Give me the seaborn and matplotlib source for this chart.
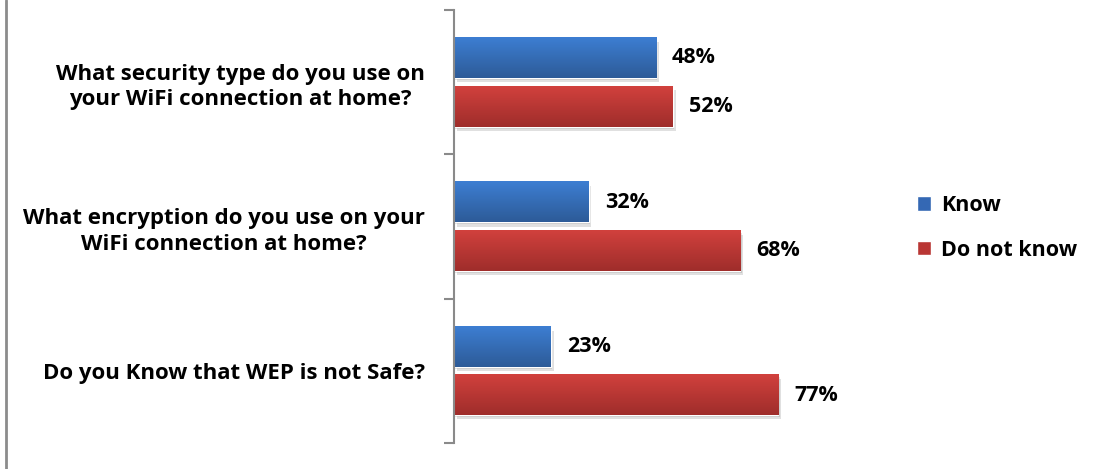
import numpy as np
import pandas as pd
import matplotlib
matplotlib.use("Agg")
import matplotlib.pyplot as plt
import seaborn as sns
from matplotlib.patches import Patch
from matplotlib.lines import Line2D
import matplotlib.patheffects as pe
from matplotlib.colors import LinearSegmentedColormap

# Survey answers (percent of respondents)
questions = [
    "What security type do you use on\nyour WiFi connection at home?",
    "What encryption do you use on your\nWiFi connection at home?",
    "Do you Know that WEP is not Safe?",
]
series = ["Know", "Do not know"]
know = [48, 32, 23]
dont_know = [52, 68, 77]

df = pd.DataFrame({
    "question": questions * 2,
    "answer": [series[0]] * len(questions) + [series[1]] * len(questions),
    "pct": know + dont_know,
})

sns.set_theme(style="white")
plt.rcParams["font.family"] = ["Open Sans", "DejaVu Sans"]
plt.rcParams["font.weight"] = "bold"
plt.rcParams["text.color"] = "black"
plt.rcParams["ytick.labelcolor"] = "black"

FS_TICK = 16
FS_VAL = 15.5
FS_LEG = 15.5
W, H = 1096, 469
fig = plt.figure(figsize=(W / 100, H / 100), dpi=100)
ax = fig.add_axes([454 / W, 1 - 443 / H, 421 / W, 433 / H])

mid = {"Know": "#3468B4", "Do not know": "#B93634"}
grad = {"Know": ("#3D7ED2", "#2D5B98"), "Do not know": ("#D1413D", "#9F2D2B")}

sns.barplot(data=df, y="question", x="pct", hue="answer", hue_order=series,
            order=questions, palette=mid, orient="h", width=0.672, gap=0.17,
            saturation=1, legend=False, ax=ax)

ax.set_xlim(0, 100)
ax.set_ylim(2.5, -0.5)

# vertical gradient fill and soft drop shadow on each bar
for level, cont in zip(series, ax.containers):
    cmap = LinearSegmentedColormap.from_list(level, list(grad[level]))
    g = np.linspace(0, 1, 64).reshape(-1, 1)
    for bar in cont:
        x0, y0 = bar.get_x(), bar.get_y()
        w, h = bar.get_width(), bar.get_height()
        bar.set_path_effects([
            pe.SimplePatchShadow(offset=(2, -3), shadow_rgbFace="black", alpha=0.12),
            pe.SimplePatchShadow(offset=(1, -1.5), shadow_rgbFace="black", alpha=0.12),
            pe.Normal(),
        ])
        ax.imshow(g, cmap=cmap, aspect="auto", origin="upper",
                  extent=(x0, x0 + w, y0 + h, y0), interpolation="bilinear",
                  zorder=bar.get_zorder() + 0.1)
    ax.bar_label(cont, labels=[f"{v:.0f}%" for v in cont.datavalues],
                 padding=11.5, fontsize=FS_VAL, fontweight="bold", color="black")

ax.set_xlim(0, 100)
ax.set_ylim(2.5, -0.5)

for side in ["top", "right", "bottom"]:
    ax.spines[side].set_visible(False)
ax.spines["left"].set_color("#8A8A8A")
ax.spines["left"].set_linewidth(1.5)

ax.set_xticks([])
ax.set_xlabel("")
ax.set_ylabel("")
ax.tick_params(axis="y", which="major", length=0, pad=21, labelsize=FS_TICK, labelcolor="black")
ax.set_yticks(np.arange(-0.5, len(questions), 1.0), minor=True)
ax.tick_params(axis="y", which="minor", length=7, width=1.5, color="#8A8A8A", left=True)
for lbl in ax.get_yticklabels():
    lbl.set_multialignment("center")
    lbl.set_fontweight("bold")
    lbl.set_linespacing(1.3)

handles = [Patch(facecolor=mid[s], label=s) for s in series]
fig.legend(handles=handles, loc="center left", bbox_to_anchor=(898 / W, 1 - 228 / H),
           frameon=False, prop={"weight": "bold", "size": FS_LEG},
           handlelength=0.65, handleheight=0.65, labelspacing=1.1, handletextpad=0.45,
           labelcolor="black")

# chart-area border on the left edge
fig.add_artist(Line2D([6 / W, 6 / W], [0, 1], transform=fig.transFigure,
                      color="#8C8C8C", lw=2))

fig.savefig("out.png", dpi=100)
